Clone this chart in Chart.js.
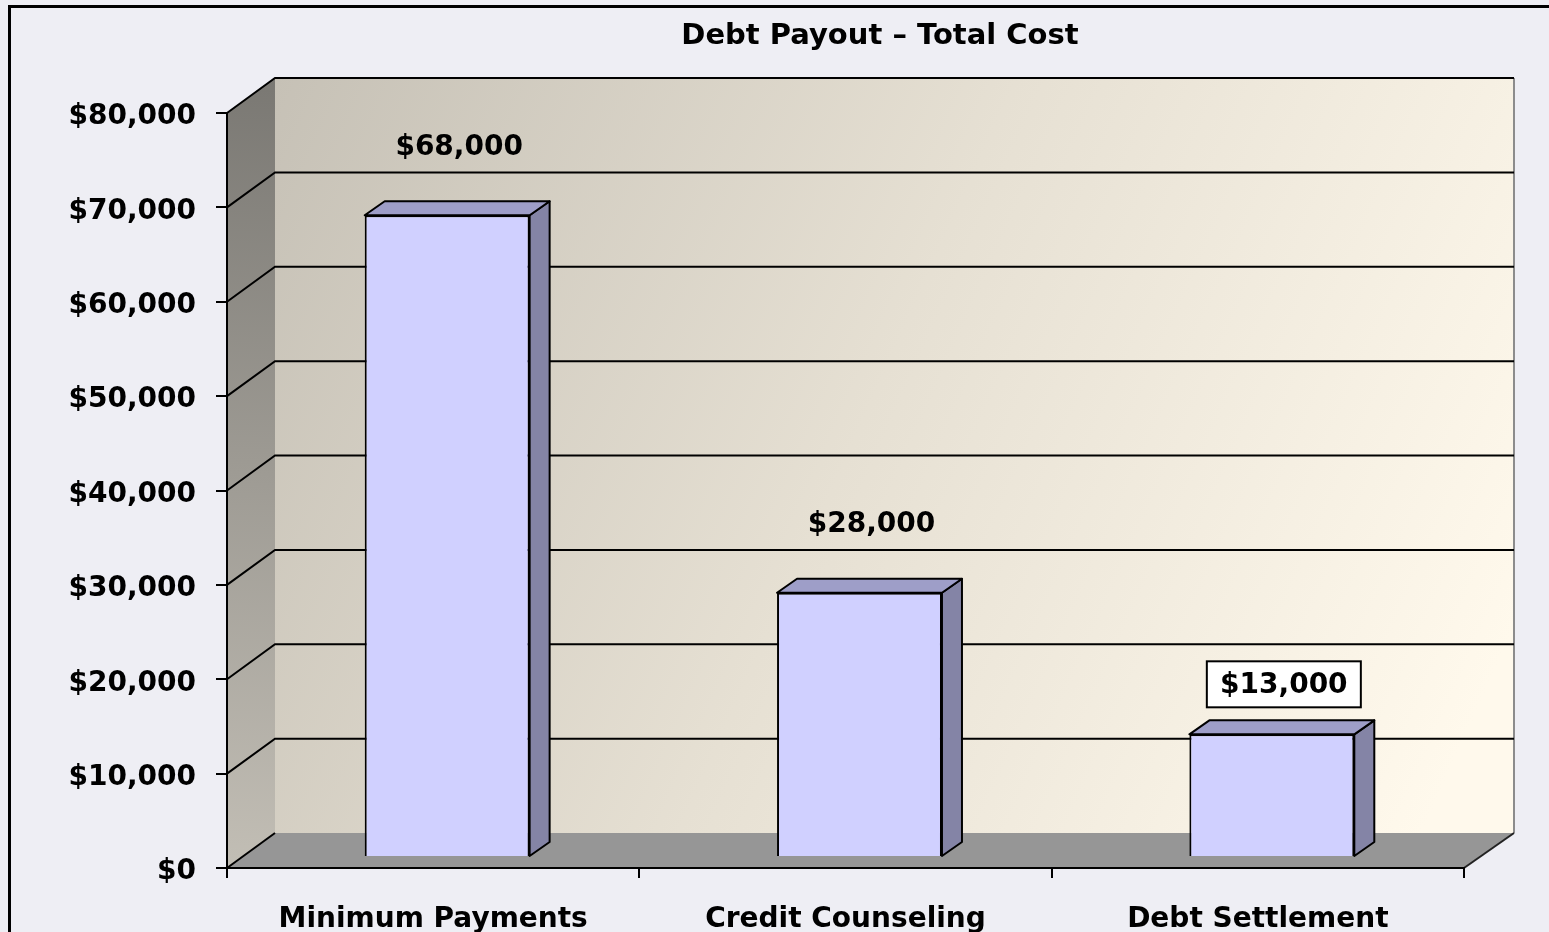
<!DOCTYPE html>
<html>
<head>
<meta charset="utf-8">
<script src="https://cdn.jsdelivr.net/npm/chart.js@4.4.1/dist/chart.umd.min.js"></script>
<style>
  html, body { margin: 0; padding: 0; overflow: hidden; background: #EEEEF4; }
  #frame { position: absolute; left: 8px; top: 5px; width: 1650px; height: 1100px; border: 3px solid #000; }
  #c { position: absolute; left: 0; top: 0; }
</style>
</head>
<body>
<div id="frame"></div>
<canvas id="c" width="1549" height="932"></canvas>
<script>
var chartTitle = 'Debt Payout \u2013 Total Cost';
var categories = ['Minimum Payments', 'Credit Counseling', 'Debt Settlement'];
var totalCost = [68000, 28000, 13000];
var yTicks = [0, 10000, 20000, 30000, 40000, 50000, 60000, 70000, 80000];
var boxedLabel = 2; // the $13,000 label sits in a white box

// 3d look: depth of the walls, position and depth of the bars
var DX = 48, DY = -35;
var BAR_SHIFT_X = 14, BAR_SHIFT_Y = -11;
var BAR_DX = 20, BAR_DY = -14;

function money(v) {
    return '$' + Number(v).toLocaleString('en-US');
}

var tickFont = { family: 'DejaVu Sans', weight: 'bold', size: 28 };

var walls3d = {
    id: 'walls3d',
    beforeDraw: function(chart) {
        var ctx = chart.ctx, a = chart.chartArea, ys = chart.scales.y;
        ctx.save();
        // title, centred over the back wall like the original
        ctx.fillStyle = '#000';
        ctx.font = 'bold 29px "DejaVu Sans"';
        ctx.textAlign = 'center';
        ctx.textBaseline = 'middle';
        ctx.fillText(chartTitle, 880, 36);
        // left wall
        var lg = ctx.createLinearGradient(a.left + DX, a.top + DY, a.left, a.bottom);
        lg.addColorStop(0, '#7A7873');
        lg.addColorStop(1, '#C2BEB5');
        ctx.fillStyle = lg;
        ctx.beginPath();
        ctx.moveTo(a.left, a.top);
        ctx.lineTo(a.left + DX, a.top + DY);
        ctx.lineTo(a.left + DX, a.bottom + DY);
        ctx.lineTo(a.left, a.bottom);
        ctx.closePath();
        ctx.fill();
        // back wall
        var bg = ctx.createLinearGradient(a.left + DX, a.top + DY, a.right + DX, a.top + 520);
        bg.addColorStop(0, '#C6C1B6');
        bg.addColorStop(0.5, '#E6E0D3');
        bg.addColorStop(1, '#FFF9EC');
        ctx.fillStyle = bg;
        ctx.fillRect(a.left + DX, a.top + DY, a.right - a.left + 2, a.bottom - a.top);
        ctx.strokeStyle = '#8C8C8C';
        ctx.lineWidth = 2;
        ctx.beginPath();
        ctx.moveTo(a.right + DX + 2, a.top + DY);
        ctx.lineTo(a.right + DX + 2, a.bottom + DY);
        ctx.stroke();
        // floor
        ctx.fillStyle = '#969696';
        ctx.beginPath();
        ctx.moveTo(a.left, a.bottom);
        ctx.lineTo(a.left + DX, a.bottom + DY);
        ctx.lineTo(a.right + DX + 2, a.bottom + DY);
        ctx.lineTo(a.right, a.bottom);
        ctx.closePath();
        ctx.fill();
        ctx.strokeStyle = '#222';
        ctx.lineWidth = 2;
        ctx.beginPath();
        ctx.moveTo(a.right, a.bottom);
        ctx.lineTo(a.right + DX + 2, a.bottom + DY);
        ctx.stroke();
        // gridlines on left and back wall
        ctx.strokeStyle = '#000';
        ctx.lineWidth = 2;
        ys.ticks.forEach(function(t) {
            var py = ys.getPixelForValue(t.value);
            ctx.beginPath();
            ctx.moveTo(a.left, py);
            ctx.lineTo(a.left + DX, py + DY);
            if (t.value > 0) ctx.lineTo(a.right + DX + 2, py + DY);
            ctx.stroke();
        });
        ctx.restore();
    },
    beforeDatasetsDraw: function(chart) {
        var ctx = chart.ctx;
        ctx.save();
        ctx.translate(BAR_SHIFT_X, BAR_SHIFT_Y);
        chart.getDatasetMeta(0).data.forEach(function(bar) {
            var L = bar.x - bar.width / 2, R = bar.x + bar.width / 2, T = bar.y, B = bar.base;
            ctx.lineWidth = 2;
            ctx.strokeStyle = '#000';
            ctx.lineJoin = 'round';
            ctx.fillStyle = '#8484A6';
            ctx.beginPath();
            ctx.moveTo(R, T);
            ctx.lineTo(R + BAR_DX, T + BAR_DY);
            ctx.lineTo(R + BAR_DX, B + BAR_DY);
            ctx.lineTo(R, B);
            ctx.closePath();
            ctx.fill();
            ctx.stroke();
            ctx.fillStyle = '#9E9EC8';
            ctx.beginPath();
            ctx.moveTo(L, T);
            ctx.lineTo(L + BAR_DX, T + BAR_DY);
            ctx.lineTo(R + BAR_DX, T + BAR_DY);
            ctx.lineTo(R, T);
            ctx.closePath();
            ctx.fill();
            ctx.stroke();
        });
    },
    afterDatasetsDraw: function(chart) {
        var ctx = chart.ctx;
        ctx.restore();
        ctx.save();
        ctx.font = 'bold 28px "DejaVu Sans"';
        ctx.textAlign = 'center';
        ctx.textBaseline = 'middle';
        chart.getDatasetMeta(0).data.forEach(function(bar, i) {
            var cx = bar.x + BAR_SHIFT_X + 12;
            var top = bar.y + BAR_SHIFT_Y;
            var txt = money(totalCost[i]);
            if (i === boxedLabel) {
                var cy = top - 50;
                ctx.fillStyle = '#fff';
                ctx.fillRect(cx - 77, cy - 23, 154, 46);
                ctx.strokeStyle = '#000';
                ctx.lineWidth = 2;
                ctx.strokeRect(cx - 77, cy - 23, 154, 46);
                ctx.fillStyle = '#000';
                ctx.fillText(txt, cx, cy + 1);
            } else {
                ctx.fillStyle = '#000';
                ctx.fillText(txt, cx, top - 68);
            }
        });
        ctx.restore();
    }
};

new Chart(document.getElementById('c'), {
    type: 'bar',
    data: {
        labels: categories,
        datasets: [{
            label: 'Total Cost',
            data: totalCost,
            backgroundColor: '#D0D0FF',
            borderColor: '#000',
            borderWidth: 2,
            categoryPercentage: 1,
            barPercentage: 0.4,
            clip: false
        }]
    },
    options: {
        responsive: false,
        animation: false,
        layout: { padding: { left: 0, right: 85, top: 113, bottom: 0 } },
        plugins: {
            legend: { display: false },
            tooltip: { enabled: false },
            title: { display: false }
        },
        scales: {
            x: {
                afterFit: function(s) { s.height = 64; },
                grid: { offset: true, drawOnChartArea: false, color: '#000', lineWidth: 2, tickLength: 10 },
                border: { display: true, color: '#000', width: 2 },
                ticks: { color: '#000', font: tickFont, padding: 25, maxRotation: 0 }
            },
            y: {
                min: 0,
                max: 80000,
                afterFit: function(s) { s.width = 227; },
                afterBuildTicks: function(s) {
                    s.ticks = yTicks.map(function(v) { return { value: v }; });
                },
                grid: { drawOnChartArea: false, color: '#000', lineWidth: 2, tickLength: 11 },
                border: { display: true, color: '#000', width: 2 },
                ticks: { color: '#000', font: tickFont, padding: 20, labelOffset: 4, callback: function(v) { return money(v); } }
            }
        }
    },
    plugins: [walls3d]
});
</script>
</body>
</html>
